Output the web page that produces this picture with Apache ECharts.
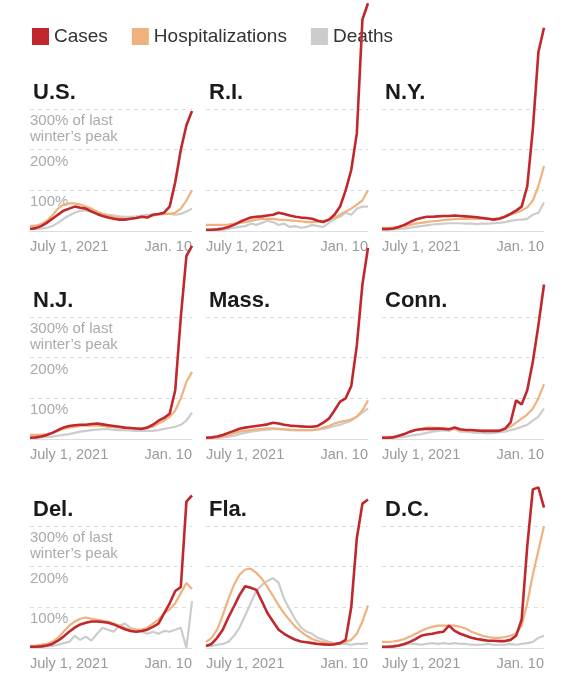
<!DOCTYPE html>
<html><head><meta charset="utf-8">
<script src="https://cdn.jsdelivr.net/npm/echarts@6/dist/echarts.min.js"></script>
<style>html,body{margin:0;padding:0;background:#fff}#c{width:574px;height:680px}</style>
</head><body><div id="c"></div>
<script>
const regions = ["U.S.","R.I.","N.Y.","N.J.","Mass.","Conn.","Del.","Fla.","D.C."];
const xTickLabels = ["July 1, 2021","Jan. 10"];
const yTickLabels = {300:"300% of last\nwinter’s peak",200:"200%",100:"100%"};
const cases = [
[5,7,12,20,30,40,50,55,60,57,55,48,42,37,33,30,28,28,30,32,35,33,40,42,45,60,120,200,260,295],
[3,3,4,6,10,15,22,28,33,35,36,38,40,45,42,38,35,33,32,30,25,22,28,40,60,100,150,240,520,560],
[5,5,6,10,15,22,28,32,35,35,36,37,37,38,37,36,35,34,32,30,28,30,35,42,50,60,110,250,440,500],
[3,4,6,10,15,22,28,32,34,35,35,37,38,36,34,32,30,28,27,26,25,28,35,45,52,62,120,300,450,475],
[3,4,6,10,15,20,25,28,30,32,34,36,40,38,35,33,32,31,30,30,32,40,50,70,92,100,130,230,380,470],
[3,3,4,8,12,18,22,24,25,25,26,25,24,28,24,22,22,21,20,20,20,20,25,40,95,85,120,190,280,380],
[3,3,4,6,10,18,28,40,50,58,62,65,65,64,62,58,52,46,42,40,42,45,52,60,85,110,140,150,360,375],
[5,10,25,45,75,102,130,152,148,143,115,86,65,45,35,27,20,16,14,12,10,9,8,9,12,20,100,270,355,365],
[3,3,4,6,10,15,22,30,33,35,38,40,55,42,35,30,25,22,20,18,18,17,17,20,30,70,250,390,395,345]
];
const hosp = [
[12,13,17,25,38,55,65,68,68,65,60,55,48,42,38,34,32,30,30,32,34,36,38,40,42,42,45,55,75,100],
[15,15,15,15,16,18,20,22,25,28,30,30,30,28,27,26,25,24,22,22,23,25,28,32,40,48,55,65,75,100],
[8,8,8,10,12,15,18,20,22,24,25,27,28,29,30,30,30,30,30,30,30,32,35,40,45,50,58,75,110,160],
[10,10,10,12,15,20,25,28,30,32,33,33,33,32,30,30,28,27,26,25,25,27,30,38,45,55,70,100,140,165],
[3,3,4,6,10,14,18,20,22,24,25,26,26,25,24,23,22,22,22,22,24,28,32,38,42,45,48,55,70,95],
[5,5,6,8,12,18,22,25,28,28,27,26,25,24,22,22,21,20,20,20,20,22,25,30,40,50,60,75,100,135],
[5,6,8,10,15,25,40,55,65,72,75,72,70,67,65,60,55,50,45,45,45,50,60,70,85,95,110,135,160,145],
[15,25,45,80,120,155,180,193,195,185,170,150,128,105,85,68,52,40,30,22,17,14,12,11,12,15,20,35,65,105],
[15,15,16,18,22,28,35,42,48,52,55,55,55,55,52,48,40,35,30,27,25,25,27,30,35,55,110,180,240,300]
];
const deaths = [
[5,5,6,8,12,20,30,38,45,50,50,48,45,42,40,38,36,35,35,36,38,40,40,42,42,42,40,42,48,55],
[2,2,3,3,5,8,10,12,18,15,20,25,22,15,18,10,12,8,10,15,12,10,20,30,35,45,40,55,60,60],
[3,3,4,5,6,8,10,12,14,16,17,18,19,19,19,18,18,17,18,18,19,20,22,25,27,28,30,40,45,70],
[3,3,4,5,6,8,10,12,15,18,20,22,23,24,24,23,22,22,21,20,20,20,20,22,25,27,30,35,45,65],
[3,3,3,4,6,8,12,15,18,20,22,23,24,24,23,22,22,22,22,22,23,25,28,32,35,40,45,55,65,75],
[3,3,3,4,5,8,10,12,15,18,20,22,20,25,18,18,16,15,15,14,15,17,18,22,25,30,35,45,55,75],
[5,3,2,4,5,8,12,15,30,20,28,18,35,50,45,40,55,60,50,45,40,35,40,35,42,40,45,50,0,115],
[5,5,8,10,15,30,50,80,110,140,155,165,172,160,120,95,70,50,40,35,25,20,15,12,10,10,8,10,10,12],
[2,2,3,5,8,10,10,8,10,12,10,12,10,12,10,10,8,8,8,10,8,8,8,10,8,10,12,15,25,30]
];

const colLeft=[30,206,382], W=162, rowTop=[109,317,526], H=122;
const C_CASES='#c0282d', C_HOSP='#efb27f', C_DEATH='#cccccc';
const grids=[],xAxes=[],yAxes=[],series=[],titles=[];
const ff='"Liberation Sans", Arial, sans-serif';
regions.forEach((r,i)=>{
  const col=i%3,row=Math.floor(i/3);
  grids.push({left:colLeft[col],top:rowTop[row],width:W,height:H});
  xAxes.push({type:'value',gridIndex:i,min:0,max:29,interval:29,
    axisLine:{show:true,lineStyle:{color:'#dddddd',width:1}},axisTick:{show:false},splitLine:{show:false},
    axisLabel:{color:'#999',fontSize:14.5,fontFamily:ff,margin:8,
      formatter:v=>v===0?xTickLabels[0]:xTickLabels[1],alignMinLabel:'left',alignMaxLabel:'right'}});
  yAxes.push({type:'value',gridIndex:i,min:0,max:300,interval:100,
    axisLine:{show:false},axisTick:{show:false},
    splitLine:{lineStyle:{color:'#dddddd',type:[4,4],width:1}},
    axisLabel:{show:col===0,inside:true,color:'#aaa',fontSize:15,fontFamily:ff,lineHeight:16,
      verticalAlign:'top',padding:[4,0,0,0],margin:0,
      formatter:v=>yTickLabels[v]||''}});
  titles.push({text:r,left:colLeft[col]-2,top:rowTop[row]-32,
    textStyle:{fontSize:22,fontWeight:'bold',color:'#1a1a1a',fontFamily:ff}});
  const mk=(name,d,c,w,z)=>({name,type:'line',xAxisIndex:i,yAxisIndex:i,data:d.map((v,k)=>[k,v]),
    showSymbol:false,clip:false,lineStyle:{color:c,width:w},itemStyle:{color:c},z,silent:true});
  series.push(mk('Deaths',deaths[i],C_DEATH,2.2,2));
  series.push(mk('Hospitalizations',hosp[i],C_HOSP,2.2,3));
  series.push(mk('Cases',cases[i],C_CASES,2.6,4));
});
const chart=echarts.init(document.getElementById('c'));
chart.setOption({animation:false,
  title:titles,
  legend:{left:27,top:22,icon:'rect',itemWidth:17,itemHeight:17,itemGap:24,
    data:['Cases','Hospitalizations','Deaths'],textStyle:{fontSize:19,color:'#333',fontFamily:ff}},
  grid:grids,xAxis:xAxes,yAxis:yAxes,series});
</script></body></html>
